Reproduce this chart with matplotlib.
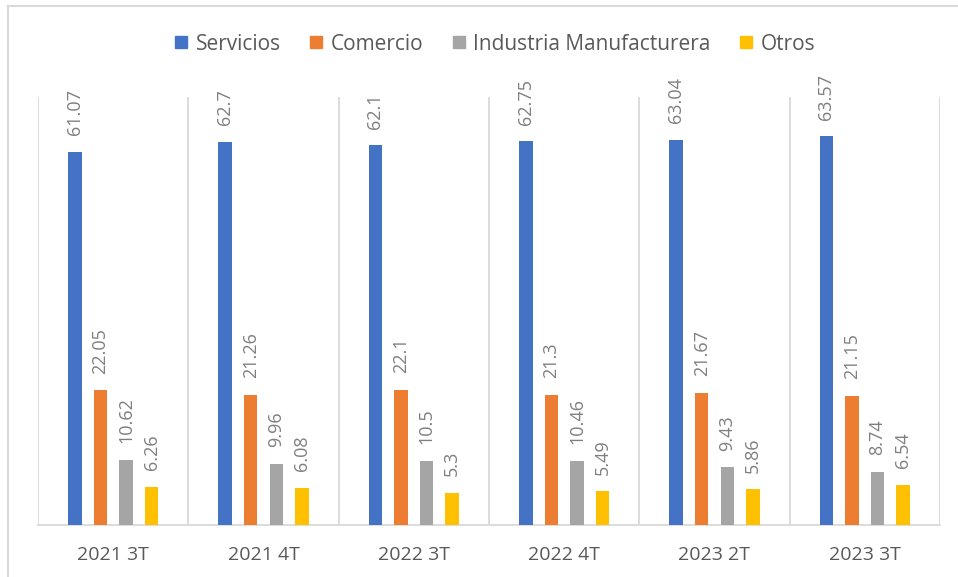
import numpy as np
import matplotlib
matplotlib.use("Agg")
import matplotlib.pyplot as plt
from matplotlib.lines import Line2D

plt.rcParams['font.family'] = ['Open Sans', 'DejaVu Sans']

periodos = ["2021 3T", "2021 4T", "2022 3T", "2022 4T", "2023 2T", "2023 3T"]
series = ["Servicios", "Comercio", "Industria Manufacturera", "Otros"]
servicios = [61.07, 62.7, 62.1, 62.75, 63.04, 63.57]
comercio = [22.05, 21.26, 22.1, 21.3, 21.67, 21.15]
industria = [10.62, 9.96, 10.5, 10.46, 9.43, 8.74]
otros = [6.26, 6.08, 5.3, 5.49, 5.86, 6.54]
colores = ["#4472C4", "#ED7D31", "#A5A5A5", "#FFC000"]

valores = [servicios, comercio, industria, otros]

fig = plt.figure(figsize=(9.58, 5.77), dpi=100)
ax = fig.add_axes([38/958, 1-525/577, (940-38)/958, (525-97)/577])

x = np.arange(len(periodos))
offsets = [-0.255, -0.085, 0.085, 0.255]
for vals, off, col, name in zip(valores, offsets, colores, series):
    bars = ax.bar(x + off, vals, width=0.09, color=col, label=name, zorder=3)
    for b, v in zip(bars, vals):
        ax.annotate(f"{v:g}", (b.get_x() + b.get_width()/2, v),
                    xytext=(0, 12), textcoords="offset points",
                    rotation=90, ha="center", va="bottom",
                    fontsize=13, color="#7f7f7f")

ax.set_xlim(-0.5, len(periodos) - 0.5)
ax.set_ylim(0, 70)
for b in np.arange(-0.5, len(periodos), 1.0):
    ax.axvline(b, color="#d9d9d9", linewidth=1.3, zorder=1)
for s in ["top", "right", "left"]:
    ax.spines[s].set_visible(False)
ax.spines["bottom"].set_color("#d9d9d9")
ax.spines["bottom"].set_linewidth(1.3)
ax.set_yticks([])
ax.set_xticks(x)
ax.set_xticklabels(periodos, fontsize=14, color="#595959")
ax.tick_params(axis="x", length=0, pad=15)

handles = [Line2D([], [], marker="s", linestyle="none", markersize=9,
                  color=c, label=n) for c, n in zip(colores, series)]
fig.legend(handles=handles, loc="center", bbox_to_anchor=(493/958, 1-44/577),
           ncol=4, frameon=False, fontsize=15, labelcolor="#595959",
           handletextpad=0.2, columnspacing=1.2, handlelength=1.0)

# borde del gráfico
fig.add_artist(Line2D([8/958, 1], [1-6/577, 1-6/577], color="#d9d9d9", linewidth=1.5))
fig.add_artist(Line2D([8/958, 8/958], [0, 1-6/577], color="#d9d9d9", linewidth=1.5))

fig.savefig("out.png", dpi=100)
